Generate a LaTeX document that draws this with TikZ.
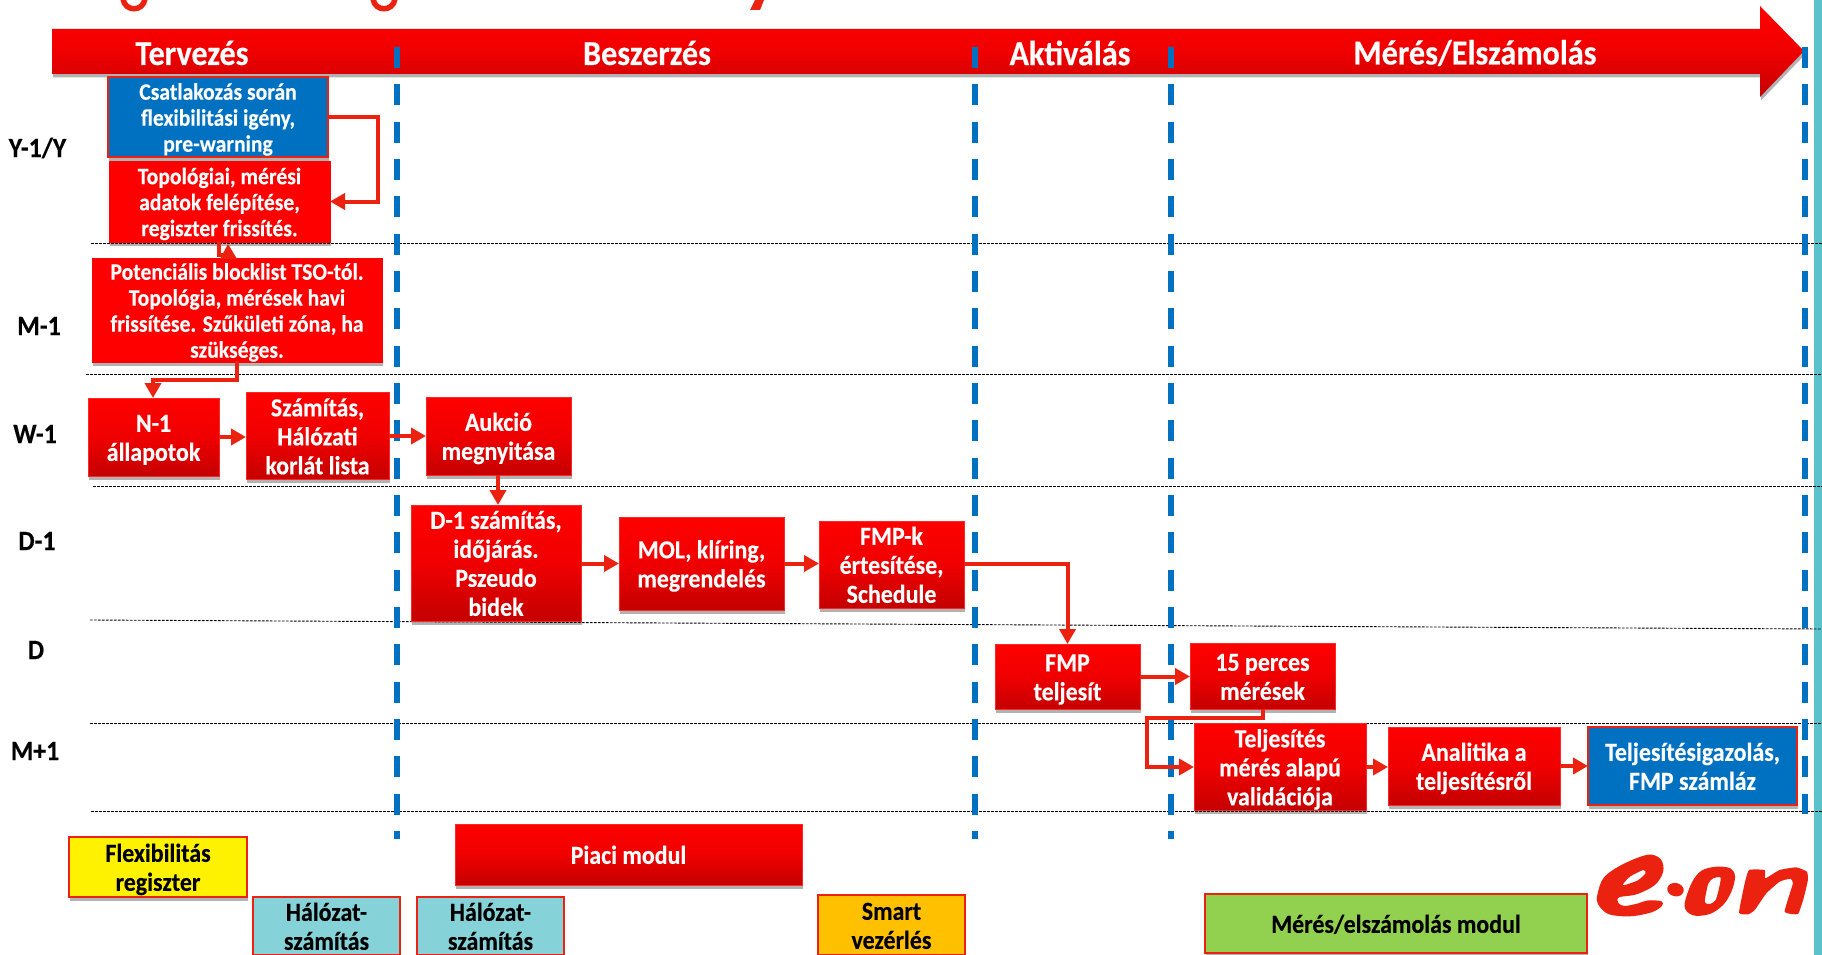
\documentclass[tikz,border=0pt]{standalone}
\usepackage{fontspec}
\setmainfont{Carlito}[FakeStretch=0.92,BoldFeatures={FakeBold=0.3}]
\usetikzlibrary{arrows.meta,shadows,calc}
\definecolor{cred}{HTML}{EB2210}
\definecolor{cblue}{HTML}{0070C0}
\definecolor{cteal}{HTML}{85D2D8}
\definecolor{cstripe}{HTML}{5BC2CC}
\definecolor{camber}{HTML}{FFC000}
\definecolor{cgreen}{HTML}{92D050}
\definecolor{gtop}{HTML}{FF0000}
\definecolor{gmid}{HTML}{F00000}
\definecolor{gbot}{HTML}{C40000}
\tikzset{
  shad/.style={drop shadow={shadow xshift=1pt,shadow yshift=-3.5pt,opacity=.3,fill=black}},
  basebox/.style={inner sep=0pt,outer sep=0pt,shad},
  fsa/.style={font=\bfseries\fontsize{23.5}{26}\selectfont},
  fsb/.style={font=\bfseries\fontsize{26}{29}\selectfont},
  gradbox/.style={basebox,fsb,text=white,top color=gtop,bottom color=gbot,middle color=gmid,draw=red!85!white,line width=.7pt},
  flatred/.style={basebox,fsa,text=white,fill=red,draw=red,line width=.7pt},
  bluebox/.style={basebox,text=white,fill=cblue,draw=cred,line width=2pt},
  modbox/.style={basebox,fsb,text=black,draw=cred,line width=2pt},
  rowlab/.style={inner sep=0pt,text=black,font=\bfseries\fontsize{28}{30}\selectfont},
  headlab/.style={inner sep=0pt,text=white,font=\bfseries\fontsize{35}{38}\selectfont},
  flow/.style={draw=cred,line width=4pt,-{Triangle[length=15pt,width=16pt]}},
  rowline/.style={black,line width=.9pt,dash pattern=on 2.6pt off 1.4pt},
  phase/.style={cblue,line width=5.7pt,dash pattern=on 21pt off 16.33pt},
  logofill/.style={fill=cred,draw=none},
}
\newcommand{\bx}[7]{\node[#6,minimum width={(#4-#2)*1pt},minimum height={(#5-#3)*1pt}] (#1) at ({(#2+#4)/2},{(#3+#5)/2}) {\raisebox{-3.5pt}[\height][\depth]{\begin{tabular}{@{}c@{}}#7\end{tabular}}};}
\begin{document}
\begin{tikzpicture}[x=1pt,y=-1pt]
\useasboundingbox (0,0) rectangle (1822,955);
% right stripe
\fill[cstripe] (1814,0) rectangle (1822,955);
% clipped title remnants
\draw[cred,line width=5.5pt] (123,-1) .. controls (125,12) and (143,12) .. (145,-1);
\draw[cred,line width=5.5pt] (373,-1) .. controls (375,12) and (393,12) .. (395,-1);
\fill[cred] (755,0) -- (764,0) -- (760,10) -- (750,10) -- cycle;
% header arrow
\path[top color=gtop,bottom color=gbot,middle color=gmid,shad] (52,29) -- (1760,29) -- (1760,6) -- (1804,51) -- (1760,97) -- (1760,74) -- (52,74) -- cycle;
% row lines
\draw[rowline] (91,243) -- (1822,243);
\draw[rowline] (86,374) -- (1822,374);
\draw[rowline] (93,486) -- (1822,486);
\draw[rowline] (90,620) -- (1822,629);
\draw[rowline] (90,723) -- (1822,723);
\draw[rowline] (91,811) -- (1822,811);
% phase lines
\draw[phase] (397,47) -- (397,839);
\draw[phase] (975,47) -- (975,839);
\draw[phase] (1171,47) -- (1171,839);
\draw[phase] (1805,47) -- (1805,814);
% header labels
\node[headlab] (h1) at (192,53) {Tervezés};
\node[headlab] (h2) at (647,53) {Beszerzés};
\node[headlab] (h3) at (1070,53) {Aktiválás};
\node[headlab] (h4) at (1475,53) {Mérés/Elszámolás};
% row labels
\node[rowlab] (r1) at (37.5,148) {Y-1/Y};
\node[rowlab] (r2) at (39,326) {M-1};
\node[rowlab] (r3) at (35,434) {W-1};
\node[rowlab] (r4) at (37,541) {D-1};
\node[rowlab] (r5) at (36,650) {D};
\node[rowlab] (r6) at (35,751) {M+1};
% boxes
\bx{csat}{108}{77}{328}{157}{bluebox,fsa}{Csatlakozás során\\flexibilitási igény,\\pre-warning}
\bx{topo}{109}{161}{330}{242}{flatred}{Topológiai, mérési\\adatok felépítése,\\regiszter frissítés.}
\bx{pot}{92}{259}{382}{361}{flatred}{Potenciális blocklist TSO-tól.\\Topológia, mérések havi\\frissítése. Szűkületi zóna, ha\\szükséges.}
\bx{nm}{88}{398}{219}{476}{gradbox}{N-1\\állapotok}
\bx{szam}{246}{397}{389}{475}{gradbox}{Számítás,\\Hálózati\\korlát lista}
\bx{auk}{426}{397}{571}{475}{gradbox}{Aukció\\megnyitása}
\bx{dm}{411}{505}{581}{621}{gradbox}{D-1 számítás,\\időjárás.\\Pszeudo\\bidek}
\bx{mol}{619}{517}{784}{610}{gradbox}{MOL, klíring,\\megrendelés}
\bx{fmpk}{819}{525}{964}{604}{gradbox}{FMP-k\\értesítése,\\Schedule}
\bx{fmpt}{995}{644}{1140}{709}{gradbox}{FMP\\teljesít}
\bx{perc}{1190}{643}{1335}{709}{gradbox}{15 perces\\mérések}
\bx{telj}{1194}{728}{1366}{806}{gradbox}{Teljesítés\\mérés alapú\\validációja}
\bx{anal}{1388}{727}{1560}{805}{gradbox}{Analitika a\\teljesítésről}
\bx{igaz}{1588}{727}{1797}{805}{bluebox,fsb}{Teljesítésigazolás,\\FMP számláz}
\bx{flex}{69}{837}{247}{897}{modbox,fill=yellow}{Flexibilitás\\regiszter}
\bx{hal1}{253}{897}{400}{955}{modbox,fill=cteal}{Hálózat-\\számítás}
\bx{hal2}{417}{897}{564}{955}{modbox,fill=cteal}{Hálózat-\\számítás}
\bx{piac}{455}{824}{802}{885}{gradbox}{Piaci modul}
\bx{smart}{818}{895}{965}{955}{modbox,fill=camber}{Smart\\vezérlés}
\bx{merm}{1205}{894}{1587}{953}{modbox,fill=cgreen}{Mérés/elszámolás modul}
% connectors
\coordinate (c1) at (378,117);
\draw[flow] (csat.east |- c1) -- (c1) |- (topo.east);
\coordinate (c2) at (219,242);
\coordinate (c3) at (228,255);
\coordinate (c3t) at (228,244);
\draw[draw=cred,line width=3.5pt] (c2) |- (c3);
\fill[cred] (c3t) -- (237,259) -- (220,259) -- cycle;
\coordinate (c4) at (237,361);
\coordinate (c5) at (153,380);
\draw[flow] (c4) |- (c5) -- (c5 |- nm.north);
\draw[flow] (nm.east) -- (nm.east -| szam.west);
\draw[flow] (szam.east) -- (szam.east -| auk.west);
\coordinate (c6) at (498,475);
\draw[flow] (c6) -- (c6 |- dm.north);
\coordinate (c7) at (581,563.5);
\draw[flow] (c7) -- (c7 -| mol.west);
\draw[flow] (mol.east |- c7) -- (c7 -| fmpk.west);
\draw[flow] (fmpk.east |- c7) -| (fmpt.north);
\draw[flow] (fmpt.east) -- (fmpt.east -| perc.west);
\coordinate (c8) at (1263,709);
\coordinate (c9) at (1147,718);
\coordinate (c10) at (1147,767);
\draw[flow] (c8) |- (c9) -- (c10) -- (c10 -| telj.west);
\draw[flow] (telj.east) -- (telj.east -| anal.west);
\draw[flow] (anal.east) -- (anal.east -| igaz.west);
% logo
\begin{scope}[shift={(1580,840)},x=.3327pt,y=-.3333pt]
\fill[logofill,even odd rule] plot[smooth cycle,tension=.55] coordinates {(52,165) (72,112) (130,72) (205,44) (243,58) (250,95) (225,135) (170,163) (117,172) (116,190) (135,198) (175,190) (205,181) (245,184) (246,198) (215,217) (150,229) (85,222) (54,192)}
  plot[smooth cycle,tension=.4] coordinates {(128,136) (150,110) (190,90) (197,100) (172,122)};
\fill[logofill,rotate around={-12:(287,149)}] (287,149) ellipse (25 and 20);
\fill[logofill,even odd rule] plot[smooth cycle,tension=.55] coordinates {(314,198) (335,130) (365,92) (410,80) (452,85) (466,110) (455,155) (430,195) (390,222) (340,226)}
  plot[smooth cycle,tension=.4] coordinates {(375,186) (385,132) (400,115) (422,112) (420,135) (408,180) (390,192)};
\fill[logofill] plot[smooth cycle,tension=.25] coordinates {(478,218) (495,130) (508,90) (555,90) (557,115) (600,90) (650,82) (682,95) (685,120) (672,175) (655,222) (615,215) (640,130) (632,116) (600,125) (560,160) (525,210) (505,223)};
\end{scope}
\end{tikzpicture}
\end{document}
